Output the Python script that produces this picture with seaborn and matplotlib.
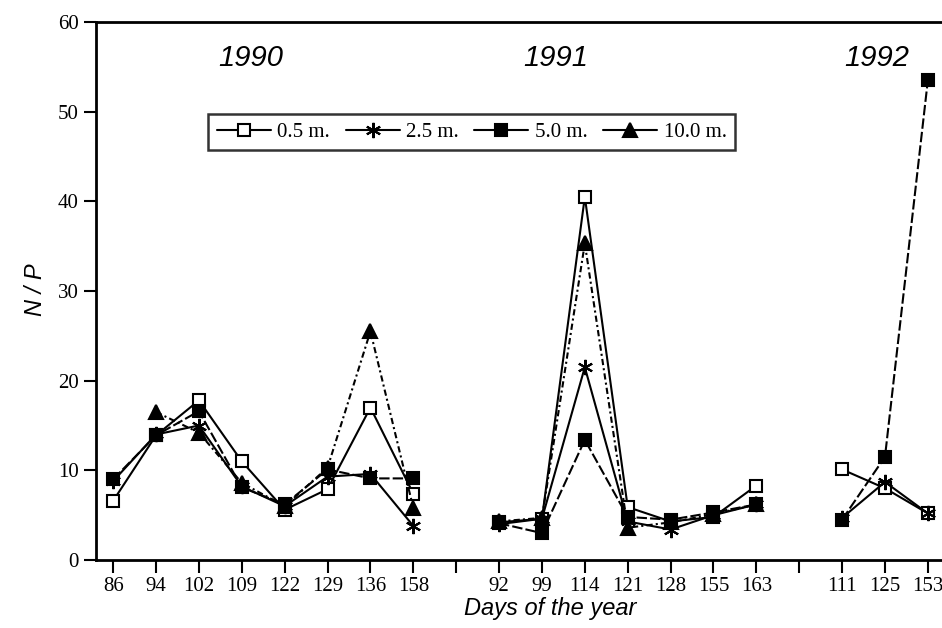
import numpy as np
import pandas as pd
import matplotlib
matplotlib.use("Agg")
import matplotlib.pyplot as plt
from matplotlib.lines import Line2D
import seaborn as sns

# Sampling days, grouped by year (blank slots separate the years)
days_1990 = ["86", "94", "102", "109", "122", "129", "136", "158"]
days_1991 = ["92", "99", "114", "121", "128", "155", "163"]
days_1992 = ["111", "125", "153"]

depths = ["0.5 m.", "2.5 m.", "5.0 m.", "10.0 m."]

# N/P ratio per depth and year
np_1990 = {
    "0.5 m.": [6.6, 13.9, 17.8, 11.0, 5.6, 7.9, 17.0, 7.4],
    "2.5 m.": [8.8, 14.0, 15.0, 8.2, 6.0, 9.3, 9.6, 3.8],
    "5.0 m.": [9.0, 13.9, 16.6, 8.1, 6.2, 10.1, 9.1, 9.1],
    "10.0 m.": [np.nan, 16.5, 14.2, 8.6, 6.0, 10.3, 25.5, 5.8],
}
np_1991 = {
    "0.5 m.": [4.2, 4.6, 40.5, 5.9, 4.3, 4.8, 8.3],
    "2.5 m.": [4.0, 4.6, 21.5, 4.3, 3.4, 5.0, 6.2],
    "5.0 m.": [4.1, 3.0, 13.4, 4.8, 4.5, 5.3, 6.2],
    "10.0 m.": [4.3, 4.7, 35.3, 3.6, 4.2, 5.1, 6.2],
}
np_1992 = {
    "0.5 m.": [10.1, 8.0, 5.2],
    "2.5 m.": [4.7, 8.7, 5.2],
    "5.0 m.": [4.5, 11.5, 53.5],
    "10.0 m.": [np.nan, np.nan, np.nan],
}

years = [("1990", days_1990, np_1990), ("1991", days_1991, np_1991), ("1992", days_1992, np_1992)]

# Build a long table with categorical slot positions
rows = []
tick_labels = []
start = 0
for year, days, vals in years:
    for i, d in enumerate(days):
        for dep in depths:
            rows.append({"pos": start + i, "year": year, "depth": dep, "np": vals[dep][i]})
    tick_labels += days + [""]
    start += len(days) + 1
tick_labels = tick_labels[:-1]
df = pd.DataFrame(rows).dropna()

sns.set_theme(style="ticks")
plt.rcParams["font.family"] = ["DejaVu Sans"]
plt.rcParams["text.color"] = "black"
plt.rcParams["xtick.color"] = "black"
plt.rcParams["ytick.color"] = "black"

fig = plt.figure(figsize=(9.42, 6.28), dpi=100)
ax = fig.add_axes([96 / 942, 1 - 560 / 628, 1 - 96 / 942, (560 - 22) / 628])

styles = {
    "0.5 m.": dict(marker="s", mfc="white", ms=9, ls="-"),
    "2.5 m.": dict(marker=(6, 2, 0), mfc="black", ms=11, ls="-"),
    "5.0 m.": dict(marker="s", mfc="black", ms=9, ls=(0, (5, 1.5))),
    "10.0 m.": dict(marker="^", mfc="black", ms=10, ls=(0, (3, 1.5, 1, 1.5))),
}

for dep in depths:
    st = styles[dep]
    sub = df[df["depth"] == dep]
    sns.lineplot(data=sub, x="pos", y="np", units="year", estimator=None,
                 color="black", lw=1.5, linestyle=st["ls"], marker=st["marker"],
                 markersize=st["ms"], markerfacecolor=st["mfc"],
                 markeredgecolor="black", markeredgewidth=1.5, ax=ax, legend=False)

ax.set_xlim(-0.4, 19.33)
ax.set_ylim(0, 60)
ax.set_xticks(range(len(tick_labels)))
ax.set_xticklabels(tick_labels, fontfamily="Liberation Serif", fontsize=15, color="black")
ax.set_yticks(range(0, 61, 10))
ax.set_yticklabels([str(v) for v in range(0, 61, 10)], fontfamily="Liberation Serif",
                   fontsize=15, color="black")
ax.tick_params(axis="both", direction="out", length=9, width=1.5, colors="black")
ax.set_xlabel("")
ax.set_ylabel("")
for side in ["left", "bottom", "top"]:
    ax.spines[side].set_linewidth(2)
    ax.spines[side].set_color("black")
ax.spines["right"].set_visible(False)

# Year labels
for label, x in [("1990", 3.2), ("1991", 10.33), ("1992", 17.8)]:
    ax.text(x, 56, label, ha="center", va="center", fontsize=21, fontstyle="italic",
            fontfamily="Liberation Sans", color="black")

# Legend
handles = []
for dep in depths:
    st = styles[dep]
    handles.append(Line2D([], [], color="black", lw=1.5, marker=st["marker"], markersize=st["ms"],
                          markerfacecolor=st["mfc"], markeredgecolor="black", markeredgewidth=1.5))
leg = ax.legend(handles, depths, loc="center", bbox_to_anchor=(0.444, 0.795), ncol=4,
                frameon=True, fancybox=False, edgecolor="black", handlelength=2.6,
                handletextpad=0.3, columnspacing=0.75, borderpad=0.4,
                prop={"family": "Liberation Serif", "size": 15})
leg.get_frame().set_linewidth(1.8)
for t in leg.get_texts():
    t.set_color("black")

fig.text(550 / 942, 1 - 608 / 628, "Days of the year", ha="center", va="center",
         fontsize=17, fontstyle="italic", fontfamily="Liberation Sans", color="black")
fig.text(36 / 942, 1 - 290 / 628, "N / P", ha="center", va="center", rotation=90,
         fontsize=17, fontstyle="italic", fontfamily="Liberation Sans", color="black")

fig.savefig("out.png", dpi=100)
